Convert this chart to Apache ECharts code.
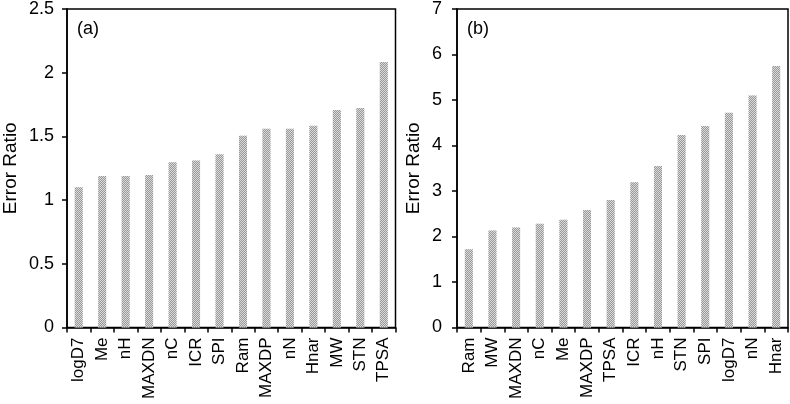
<!DOCTYPE html>
<html>
<head>
<meta charset="utf-8">
<script src="https://cdn.jsdelivr.net/npm/echarts@6/dist/echarts.min.js"></script>
<style>
html,body{margin:0;padding:0;background:#fff;}
#chart{width:790px;height:404px;}
</style>
</head>
<body>
<div id="chart"></div>
<script>
// Panel (a)
const categoriesA = ['logD7','Me','nH','MAXDN','nC','ICR','SPI','Ram','MAXDP','nN','Hnar','MW','STN','TPSA'];
const valuesA = [1.10, 1.19, 1.19, 1.197, 1.297, 1.31, 1.36, 1.505, 1.56, 1.56, 1.584, 1.707, 1.723, 2.084];
const ticksA = [0, 0.5, 1, 1.5, 2, 2.5];

// Panel (b)
const categoriesB = ['Ram','MW','MAXDN','nC','Me','MAXDP','TPSA','ICR','nH','STN','SPI','logD7','nN','Hnar'];
const valuesB = [1.72, 2.13, 2.20, 2.28, 2.37, 2.585, 2.80, 3.19, 3.55, 4.23, 4.43, 4.72, 5.10, 5.75];
const ticksB = [0, 1, 2, 3, 4, 5, 6, 7];

const FONT = 'Liberation Sans, Arial, sans-serif';
const chart = echarts.init(document.getElementById('chart'), null, {renderer: 'canvas'});

function xAxisCfg(cats, gi) {
  return {
    type: 'category', gridIndex: gi, data: cats,
    axisLine: {lineStyle: {color: '#000', width: 1.5}},
    axisTick: {show: true, inside: false, length: 5, lineStyle: {color: '#000', width: 1.5}},
    axisLabel: {rotate: 90, interval: 0, color: '#000', fontSize: 17, fontFamily: FONT, margin: 10},
    splitLine: {show: false}
  };
}
function yAxisCfg(ticks, gi, gap, lmargin) {
  return {
    type: 'value', gridIndex: gi,
    min: ticks[0], max: ticks[ticks.length - 1], interval: ticks[1] - ticks[0],
    name: 'Error Ratio', nameLocation: 'middle', nameRotate: 90, nameGap: gap,
    nameTextStyle: {color: '#000', fontSize: 19, fontFamily: FONT},
    axisLine: {show: true, lineStyle: {color: '#000', width: 1.5}},
    axisTick: {show: true, inside: false, length: 5, lineStyle: {color: '#000', width: 1.5}},
    axisLabel: {color: '#000', fontSize: 18, fontFamily: FONT, margin: lmargin,
      formatter: v => String(v)},
    splitLine: {show: false}
  };
}

const barStyle = {
  color: '#dadada',
  decal: {symbol: 'rect', symbolSize: 1, color: '#999999',
          dashArrayX: [[1, 1], [0, 1, 1, 0]], dashArrayY: [1, 0], rotation: 0}
};

chart.setOption({
  animation: false,
  backgroundColor: '#fff',
  title: [
    {text: '(a)', left: 72, top: 15, textStyle: {fontSize: 18, fontWeight: 'normal', color: '#000', fontFamily: FONT}},
    {text: '(b)', left: 462, top: 15, textStyle: {fontSize: 18, fontWeight: 'normal', color: '#000', fontFamily: FONT}}
  ],
  grid: [
    {left: 66, top: 9, width: 329.5, height: 318.5, show: true, borderColor: '#000', borderWidth: 1.5, containLabel: false},
    {left: 457, top: 9, width: 331, height: 318.5, show: true, borderColor: '#000', borderWidth: 1.5, containLabel: false}
  ],
  xAxis: [xAxisCfg(categoriesA, 0), xAxisCfg(categoriesB, 1)],
  yAxis: [yAxisCfg(ticksA, 0, 47, 13), yAxisCfg(ticksB, 1, 34, 15)],
  series: [
    {type: 'bar', xAxisIndex: 0, yAxisIndex: 0, data: valuesA, barWidth: 8, itemStyle: barStyle},
    {type: 'bar', xAxisIndex: 1, yAxisIndex: 1, data: valuesB, barWidth: 8, itemStyle: barStyle}
  ]
});
</script>
</body>
</html>
